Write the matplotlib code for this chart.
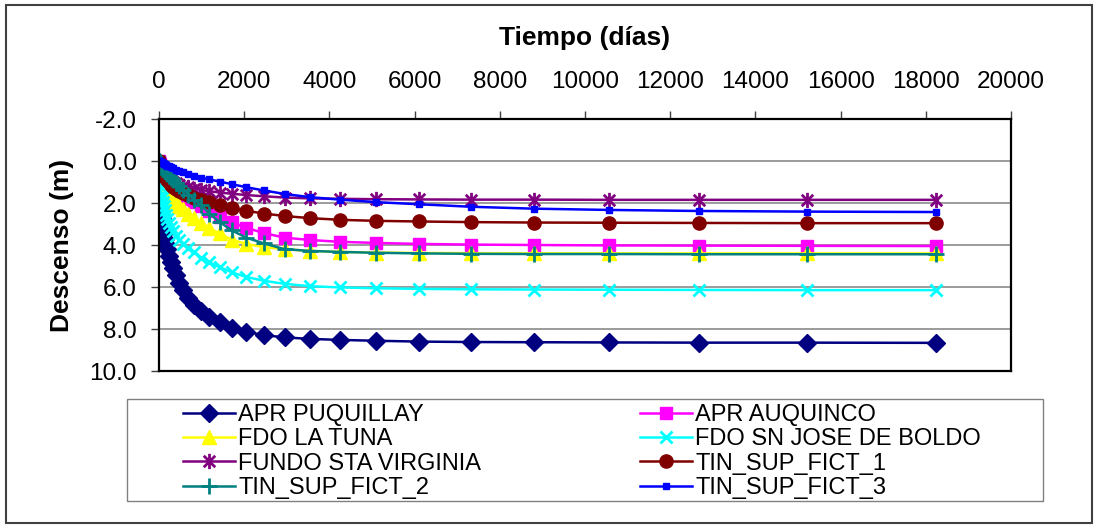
import numpy as np
import matplotlib
matplotlib.use('Agg')
import matplotlib.pyplot as plt
from matplotlib.path import Path
from matplotlib.patches import Rectangle

plt.rcParams['font.family'] = ['Liberation Sans', 'DejaVu Sans']

# tiempo en dias
t_dias = [1, 5, 10, 15, 22, 31, 44, 62, 77, 92, 111, 133, 159, 191, 230, 276, 331, 397,
          476, 571, 686, 823, 987, 1185, 1421, 1706, 2047, 2456, 2948, 3537, 4245, 5093,
          6112, 7334, 8801, 10561, 12674, 15208, 18250]

# descensos (m)
apr_puquillay = [0.12, 0.55, 0.95, 1.25, 1.6, 1.95, 2.3, 2.7, 2.95, 3.2, 3.45, 3.7, 3.95, 4.2,
                 4.5, 4.8, 5.1, 5.45, 5.8, 6.15, 6.5, 6.85, 7.15, 7.43, 7.68, 7.93, 8.13, 8.29,
                 8.4, 8.47, 8.52, 8.56, 8.6, 8.62, 8.63, 8.64, 8.65, 8.65, 8.66]
apr_auquinco = [0.01, 0.05, 0.1, 0.15, 0.2, 0.27, 0.35, 0.45, 0.53, 0.6, 0.7, 0.8, 0.9, 1.0,
                1.1, 1.2, 1.32, 1.45, 1.58, 1.7, 1.82, 1.95, 2.15, 2.4, 2.65, 2.92, 3.18, 3.43,
                3.65, 3.76, 3.85, 3.9, 3.95, 3.98, 4.0, 4.02, 4.03, 4.04, 4.05]
fdo_la_tuna = [0.02, 0.09, 0.17, 0.24, 0.33, 0.42, 0.53, 0.67, 0.77, 0.87, 0.98, 1.1, 1.22,
               1.35, 1.5, 1.65, 1.8, 1.95, 2.15, 2.3, 2.5, 2.7, 2.95, 3.2, 3.45, 3.75, 3.95,
               4.1, 4.2, 4.28, 4.33, 4.36, 4.38, 4.39, 4.4, 4.4, 4.4, 4.4, 4.4]
fdo_sn_jose = [0.05, 0.25, 0.45, 0.62, 0.8, 1.0, 1.25, 1.55, 1.75, 1.95, 2.15, 2.35, 2.55,
               2.75, 2.95, 3.15, 3.35, 3.55, 3.75, 3.95, 4.15, 4.35, 4.6, 4.82, 5.05, 5.3,
               5.52, 5.7, 5.85, 5.96, 6.02, 6.06, 6.09, 6.11, 6.12, 6.13, 6.14, 6.15, 6.15]
fundo_sta_virginia = [0.01, 0.06, 0.12, 0.17, 0.22, 0.28, 0.35, 0.43, 0.5, 0.56, 0.62, 0.68,
                      0.74, 0.8, 0.87, 0.93, 1.0, 1.06, 1.12, 1.18, 1.25, 1.32, 1.38, 1.44,
                      1.5, 1.56, 1.62, 1.68, 1.74, 1.78, 1.8, 1.82, 1.83, 1.84, 1.84, 1.85,
                      1.85, 1.85, 1.85]
tin_sup_fict_1 = [0.01, 0.05, 0.1, 0.14, 0.19, 0.25, 0.32, 0.42, 0.5, 0.57, 0.65, 0.74, 0.83,
                  0.92, 1.02, 1.12, 1.22, 1.33, 1.43, 1.53, 1.63, 1.74, 1.85, 1.97, 2.1, 2.25,
                  2.37, 2.5, 2.62, 2.72, 2.8, 2.85, 2.88, 2.91, 2.93, 2.94, 2.95, 2.96, 2.96]
tin_sup_fict_2 = [0.0, 0.02, 0.04, 0.06, 0.09, 0.12, 0.16, 0.22, 0.27, 0.32, 0.38, 0.45, 0.52,
                  0.6, 0.7, 0.8, 0.92, 1.05, 1.2, 1.38, 1.6, 1.85, 2.1, 2.5, 2.9, 3.3, 3.65,
                  3.92, 4.2, 4.28, 4.33, 4.37, 4.4, 4.42, 4.43, 4.43, 4.44, 4.44, 4.44]
tin_sup_fict_3 = [0.0, 0.0, 0.01, 0.01, 0.02, 0.03, 0.04, 0.06, 0.08, 0.1, 0.12, 0.15, 0.18,
                  0.22, 0.26, 0.3, 0.35, 0.41, 0.47, 0.54, 0.62, 0.7, 0.79, 0.88, 0.98, 1.1,
                  1.25, 1.4, 1.57, 1.72, 1.84, 1.96, 2.06, 2.18, 2.27, 2.33, 2.38, 2.41, 2.43]

nombres = ['APR PUQUILLAY', 'APR AUQUINCO', 'FDO LA TUNA', 'FDO SN JOSE DE BOLDO',
           'FUNDO STA VIRGINIA', 'TIN_SUP_FICT_1', 'TIN_SUP_FICT_2', 'TIN_SUP_FICT_3']
series = [apr_puquillay, apr_auquinco, fdo_la_tuna, fdo_sn_jose, fundo_sta_virginia,
          tin_sup_fict_1, tin_sup_fict_2, tin_sup_fict_3]

# asterisco estilo Excel: X + linea vertical
star = Path([(0, -1), (0, 1), (-0.75, -0.75), (0.75, 0.75), (-0.75, 0.75), (0.75, -0.75)],
            [Path.MOVETO, Path.LINETO] * 3)

estilos = [
    dict(color='#000080', marker='D', ms=9),
    dict(color='#FF00FF', marker='s', ms=9),
    dict(color='#FFFF00', marker='^', ms=10),
    dict(color='#00FFFF', marker='x', ms=9, mew=2),
    dict(color='#800080', marker=star, ms=11, mew=2),
    dict(color='#800000', marker='o', ms=9.5),
    dict(color='#008080', marker='+', ms=11, mew=2),
    dict(color='#0000FF', marker='s', ms=4),
]

W, H = 1097, 525
fig = plt.figure(figsize=(W / 100, H / 100), dpi=100)
ax = fig.add_axes([159 / W, 1 - 371 / H, 852 / W, 252 / H])

lineas = []
for nombre, s, est in zip(nombres, series, estilos):
    ln, = ax.plot(t_dias, s, lw=1.8, label=nombre, **est)
    lineas.append(ln)

ax.set_xlim(0, 20000)
ax.set_ylim(10, -2)
ax.set_xticks(np.arange(0, 20001, 2000))
ax.set_yticks(np.arange(-2, 10.1, 2))
ax.set_yticklabels([f'{v:.1f}' for v in np.arange(-2, 10.1, 2)])
ax.xaxis.tick_top()
ax.xaxis.set_label_position('top')
ax.tick_params(axis='x', direction='out', length=6, width=1, pad=13, labelsize=17.5, color='#404040')
ax.tick_params(axis='y', direction='out', length=6, width=1, pad=10, labelsize=17.5, color='#404040')
ax.grid(axis='y', color='#808080', lw=1.1)
ax.set_axisbelow(True)
for sp in ax.spines.values():
    sp.set_linewidth(1.6)
    sp.set_color('black')

ax.set_xlabel('Tiempo (días)', fontsize=19, fontweight='bold')
ax.xaxis.label.set_va('center')
ax.xaxis.set_label_coords(0.5, (371 - 38) / 252)
ax.set_ylabel('Descenso (m)', fontsize=19, fontweight='bold')
ax.yaxis.label.set_va('center')
ax.yaxis.set_label_coords((62 - 159) / 852, 0.5)

# leyenda: marco y dos columnas
fig.patches.append(Rectangle((127 / W, 1 - 501 / H), 916 / W, 102 / H, transform=fig.transFigure,
                             fill=False, ec='#808080', lw=1))
for k, x0 in enumerate([183, 640]):
    fig.legend(lineas[k::2], nombres[k::2], loc='upper left',
               bbox_to_anchor=(x0 / W, 1 - 404 / H), frameon=False, fontsize=17,
               borderpad=0, borderaxespad=0, handlelength=2.2, handletextpad=0.15,
               labelspacing=0.1)

# marco exterior
fig.patches.append(Rectangle((6 / W, 2 / H), 1086 / W, 1 - 7 / H, transform=fig.transFigure,
                             fill=False, ec='#404040', lw=1.5))

fig.savefig('out.png', dpi=100)
